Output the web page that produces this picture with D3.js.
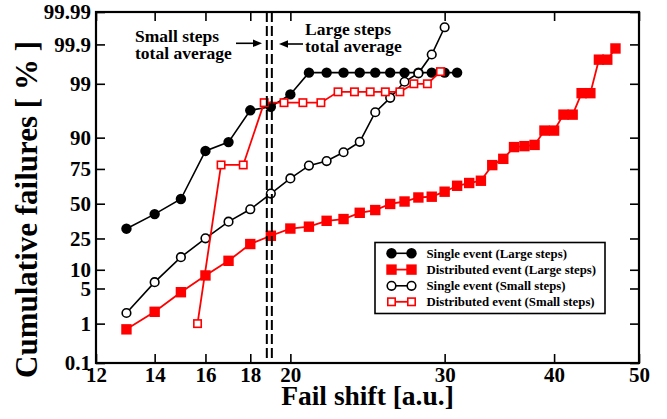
<!DOCTYPE html>
<html>
<head>
<meta charset="utf-8">
<script src="https://cdn.jsdelivr.net/npm/d3@7"></script>
<style>
  body { margin: 0; background: #fff; }
</style>
</head>
<body>
<svg id="chart" width="667" height="419" font-family="Liberation Serif" font-weight="bold"></svg>
<script>
// ---- data (fail shift [a.u.], cumulative failures [%]) ----
const singleLargeX = [13, 14, 15, 16, 17, 18, 19, 20, 21, 22, 23, 24, 25, 26, 27, 28, 29, 30, 31];
const singleLargeY = [31.4, 42.0, 53.6, 84.7, 88.4, 96.5, 97.0, 98.3, 99.45, 99.45, 99.45, 99.45, 99.45, 99.45, 99.45, 99.45, 99.45, 99.45, 99.45];

const distLargeX = [13, 14, 15, 16, 17, 18, 19, 20, 21, 22, 23, 24, 25, 26, 27, 28, 29, 30, 31, 32, 33, 34, 35, 36, 37, 38, 39, 40, 41, 42, 43, 44, 45, 46, 47];
const distLargeY = [0.74, 1.8, 4.3, 8.2, 13.4, 21.7, 26.7, 31.5, 32.8, 37.0, 38.3, 43.0, 45.1, 49.8, 51.7, 54.8, 55.4, 59.2, 63.6, 65.6, 67.2, 77.3, 80.8, 86.4, 86.8, 87.3, 92.2, 92.2, 95.8, 95.8, 98.4, 98.4, 99.74, 99.74, 99.87];

const singleSmallX = [13, 14, 15, 16, 17, 18, 19, 20, 21, 22, 23, 24, 25, 26, 27, 28, 29, 30];
const singleSmallY = [1.7, 6.4, 15.0, 25.1, 36.4, 45.7, 57.8, 68.8, 77.0, 79.6, 84.1, 88.5, 96.2, 98.0, 99.1, 99.43, 99.81, 99.969];

const distSmallX = [15.67, 16.67, 17.67, 18.67, 19.67, 20.67, 21.67, 22.67, 23.67, 24.67, 25.67, 26.67, 27.67, 28.67, 29.67];
const distSmallY = [1.0, 77.4, 77.4, 97.5, 97.5, 97.5, 97.5, 98.5, 98.5, 98.5, 98.5, 98.5, 99.0, 99.0, 99.48];

const averageLines = [18.8, 19.05]; // small steps, large steps total average

const xTicks = [12, 14, 16, 18, 20, 30, 40, 50];
const yTicks = [0.1, 1, 5, 10, 25, 50, 75, 90, 99, 99.9, 99.99];
const yTickLabels = ["0.1", "1", "5", "10", "25", "50", "75", "90", "99", "99.9", "99.99"];

const legendLabels = [
  "Single event (Large steps)",
  "Distributed event (Large steps)",
  "Single event (Small steps)",
  "Distributed event (Small steps)"
];

// inverse normal cdf (Acklam)
function probit(p) {
  const a = [-3.969683028665376e+01, 2.209460984245205e+02, -2.759285104469687e+02, 1.383577518672690e+02, -3.066479806614716e+01, 2.506628277459239e+00];
  const b = [-5.447609879822406e+01, 1.615858368580409e+02, -1.556989798598866e+02, 6.680131188771972e+01, -1.328068155288572e+01];
  const c = [-7.784894002430293e-03, -3.223964580411365e-01, -2.400758277161838e+00, -2.549732539343734e+00, 4.374664141464968e+00, 2.938163982698783e+00];
  const d = [7.784695709041462e-03, 3.224671290700398e-01, 2.445134137142996e+00, 3.754408661907416e+00];
  const pl = 0.02425;
  let q, r;
  if (p < pl) {
    q = Math.sqrt(-2 * Math.log(p));
    return (((((c[0]*q+c[1])*q+c[2])*q+c[3])*q+c[4])*q+c[5]) / ((((d[0]*q+d[1])*q+d[2])*q+d[3])*q+1);
  } else if (p <= 1 - pl) {
    q = p - 0.5; r = q * q;
    return (((((a[0]*r+a[1])*r+a[2])*r+a[3])*r+a[4])*r+a[5])*q / (((((b[0]*r+b[1])*r+b[2])*r+b[3])*r+b[4])*r+1);
  }
  q = Math.sqrt(-2 * Math.log(1 - p));
  return -(((((c[0]*q+c[1])*q+c[2])*q+c[3])*q+c[4])*q+c[5]) / ((((d[0]*q+d[1])*q+d[2])*q+d[3])*q+1);
}

const plot = { left: 96, right: 639, top: 12, bottom: 363 };
const svg = d3.select("#chart");

const x = d3.scaleLog().domain([12, 50]).range([plot.left, plot.right]);
const yz = d3.scaleLinear()
  .domain([probit(0.001), probit(0.9999)])
  .range([plot.bottom, plot.top]);
const y = pct => yz(probit(pct / 100));

const zip = (xs, ys) => xs.map((v, i) => ({ x: v, y: ys[i] }));
const line = d3.line().x(d => x(d.x)).y(d => y(d.y));

const series = [
  { data: zip(singleLargeX, singleLargeY), color: "#000", shape: "circle", filled: true, lw: 1.6 },
  { data: zip(distLargeX, distLargeY), color: "#ff0000", shape: "square", filled: true, lw: 1.8 },
  { data: zip(singleSmallX, singleSmallY), color: "#000", shape: "circle", filled: false, lw: 1.6 },
  { data: zip(distSmallX, distSmallY), color: "#ff0000", shape: "square", filled: false, lw: 1.8 }
];

function drawMarker(g, s, cx, cy) {
  if (s.shape === "circle") {
    g.append("circle")
      .attr("cx", cx).attr("cy", cy)
      .attr("r", s.filled ? 5.2 : 4.3)
      .attr("fill", s.filled ? s.color : "#fff")
      .attr("stroke", s.color)
      .attr("stroke-width", s.filled ? 0 : 1.6);
  } else {
    const h = s.filled ? 10.4 : 7.4;
    g.append("rect")
      .attr("x", cx - h / 2).attr("y", cy - h / 2)
      .attr("width", h).attr("height", h)
      .attr("fill", s.filled ? s.color : "#fff")
      .attr("stroke", s.color)
      .attr("stroke-width", s.filled ? 0 : 1.6);
  }
}

const dataG = svg.append("g");
series.forEach(s => {
  const g = dataG.append("g");
  g.append("path")
    .attr("d", line(s.data))
    .attr("fill", "none")
    .attr("stroke", s.color)
    .attr("stroke-width", s.lw);
  s.data.forEach(d => drawMarker(g, s, x(d.x), y(d.y)));
});

// average lines (dashed)
svg.append("g").selectAll("line")
  .data(averageLines)
  .join("line")
  .attr("x1", d => x(d)).attr("x2", d => x(d))
  .attr("y1", plot.top).attr("y2", plot.bottom)
  .attr("stroke", "#000")
  .attr("stroke-width", 2)
  .attr("stroke-dasharray", "10,4");

// axes
const yTickZ = yTicks.map(p => probit(p / 100));
const axisFont = g => g
  .attr("font-family", "Liberation Serif")
  .attr("font-size", 21)
  .selectAll("text")
  .attr("font-weight", "bold")
  .attr("fill", "#000");
const cleanAxis = g => {
  g.select(".domain").remove();
  g.selectAll(".tick line").attr("stroke", "#000").attr("stroke-width", 1.6);
};

svg.append("g")
  .attr("transform", `translate(${plot.left},0)`)
  .call(d3.axisLeft(yz).tickValues(yTickZ).tickFormat((d, i) => yTickLabels[i])
    .tickSizeInner(-9).tickSizeOuter(0).tickPadding(5))
  .call(cleanAxis).call(axisFont);

svg.append("g")
  .attr("transform", `translate(${plot.right},0)`)
  .call(d3.axisRight(yz).tickValues(yTickZ).tickFormat("")
    .tickSizeInner(-9).tickSizeOuter(0))
  .call(cleanAxis);

svg.append("g")
  .attr("transform", `translate(0,${plot.bottom})`)
  .call(d3.axisBottom(x).tickValues(xTicks).tickFormat(d3.format("d"))
    .tickSizeInner(-9).tickSizeOuter(0).tickPadding(4))
  .call(cleanAxis).call(axisFont);

svg.append("g")
  .attr("transform", `translate(0,${plot.top})`)
  .call(d3.axisTop(x).tickValues(xTicks).tickFormat("")
    .tickSizeInner(-9).tickSizeOuter(0))
  .call(cleanAxis);

svg.append("rect")
  .attr("x", plot.left).attr("y", plot.top)
  .attr("width", plot.right - plot.left).attr("height", plot.bottom - plot.top)
  .attr("fill", "none").attr("stroke", "#000").attr("stroke-width", 2.2);

// axis titles
svg.append("text")
  .attr("x", (plot.left + plot.right) / 2).attr("y", 404.5)
  .attr("text-anchor", "middle")
  .attr("font-size", 27.5)
  .text("Fail shift [a.u.]");

svg.append("text")
  .attr("transform", "translate(37,209.5) rotate(-90)")
  .attr("text-anchor", "middle")
  .attr("font-size", 31)
  .text("Cumulative failures [ % ]");

// annotations
const ann = svg.append("g").attr("font-size", 17.5);
ann.append("text").attr("x", 135).attr("y", 41.5).text("Small steps");
ann.append("text").attr("x", 135).attr("y", 58.5).text("total average");
ann.append("text").attr("x", 305).attr("y", 35).text("Large steps");
ann.append("text").attr("x", 305).attr("y", 52).text("total average");

function arrow(x1, x2, yy) {
  const dir = Math.sign(x2 - x1);
  svg.append("line")
    .attr("x1", x1).attr("x2", x2 - dir * 6).attr("y1", yy).attr("y2", yy)
    .attr("stroke", "#000").attr("stroke-width", 1.6);
  svg.append("path")
    .attr("d", `M${x2},${yy} L${x2 - dir * 9},${yy - 3.8} L${x2 - dir * 9},${yy + 3.8} Z`)
    .attr("fill", "#000");
}
arrow(236, 262, 43.3);
arrow(303, 279, 44);

// legend
const lg = svg.append("g");
lg.append("rect")
  .attr("x", 375).attr("y", 242.5).attr("width", 230).attr("height", 71)
  .attr("fill", "#fff").attr("stroke", "#000").attr("stroke-width", 1.6);
const rowY = [253.3, 269.6, 285.8, 301.8];
series.forEach((s, i) => {
  const g = lg.append("g");
  g.append("line")
    .attr("x1", 391.5).attr("x2", 411.5).attr("y1", rowY[i]).attr("y2", rowY[i])
    .attr("stroke", s.color).attr("stroke-width", s.lw);
  drawMarker(g, s, 391.5, rowY[i]);
  drawMarker(g, s, 411.5, rowY[i]);
  g.append("text")
    .attr("x", 426.5).attr("y", rowY[i]).attr("dy", "0.35em")
    .attr("font-size", 12.8)
    .text(legendLabels[i]);
});
</script>
</body>
</html>
